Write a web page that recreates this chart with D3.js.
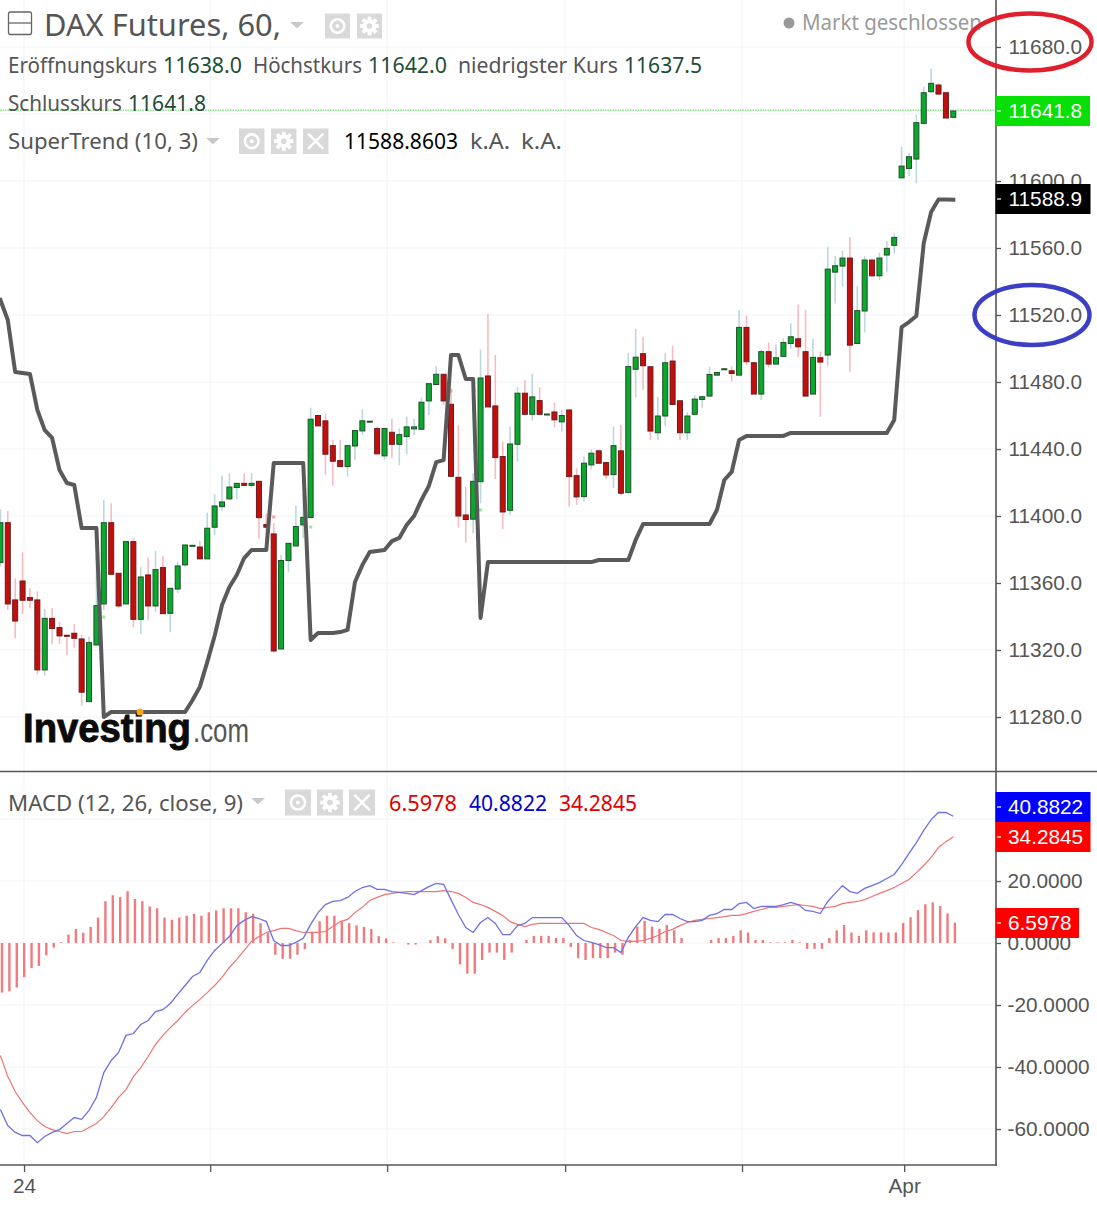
<!DOCTYPE html>
<html><head><meta charset="utf-8">
<script src="https://d3js.org/d3.v7.min.js"></script>
<style>html,body{margin:0;padding:0;background:#fff;overflow:hidden}svg{display:block}</style>
</head><body><svg id="c" width="1097" height="1206"></svg>
<script>
const opens=[11372.2,11396,11349.9,11361.2,11351.3,11349.9,11308.1,11338.9,11333.4,11328.8,
11330,11326.6,11289.2,11323,11347.5,11396,11365.8,11347.5,11384.7,11338.3,
11364.8,11346.3,11369.2,11341.9,11356.4,11370.8,11382.3,11381.5,11374.4,11393.3,
11405.6,11410.2,11417,11419.5,11418.3,11420.7,11394.9,11389.3,11320.6,11373.4,
11382.1,11394.7,11399.1,11460,11456.8,11442,11433.1,11429.5,11441.8,11450.8,
11456.2,11452.2,11435.9,11450,11442.8,11447.4,11452,11451.8,11468.7,11478.5,
11484.6,11466.7,11423.1,11400.6,11398.1,11420.5,11483.6,11465.7,11435.5,11403.4,
11442.8,11473.3,11460.7,11468.9,11460.5,11462.1,11456.2,11463.3,11424.1,11411.6,
11430.5,11438.9,11431.9,11424.7,11438.9,11414,11487.6,11496.9,11489.1,11449.7,
11459.7,11492.5,11468.8,11449.7,11460.7,11469.6,11471.6,11484.1,11487.5,11486.7,
11484.1,11512.6,11491.5,11472.8,11498.1,11490.7,11495.3,11503,11505.8,11498.1,
11472.8,11494.5,11496.1,11545.6,11549.2,11554,11503,11522.4,11552.8,11543.4,
11555.8,11561.6,11601.9,11607.5,11613.1,11634.4,11653.3,11657.3,11652.7,11638];
const closes=[11396,11347.5,11337.3,11349.7,11349.7,11308.1,11338.9,11332.8,11328.4,11328.4,
11327,11294.8,11324.4,11346.5,11396,11365.2,11346.3,11384.7,11338.3,11363.6,
11346.3,11368,11341.7,11356.8,11370.2,11382.7,11382.5,11374.4,11392.7,11406,
11408.4,11417.3,11419.5,11418.3,11419.5,11399,11393.3,11319.4,11373.4,11383.7,
11393.7,11399.2,11457.8,11453.8,11436.9,11432.7,11429.5,11442,11451,11456.8,
11456.6,11437.1,11452.2,11442.8,11448.6,11453.2,11453.2,11467.9,11479,11484.6,
11468.7,11423.7,11400,11397.9,11420.7,11482.4,11465.1,11434.9,11402.4,11443,
11473.3,11460.7,11471.1,11460.7,11460.9,11457.4,11460,11423.5,11411.4,11431.5,
11437.5,11431.5,11424.5,11442,11413.6,11489.2,11494.8,11489.7,11450.7,11459.7,
11491.5,11466.6,11449.7,11459.7,11469.8,11471.2,11484.5,11485.7,11487.9,11485.1,
11512.6,11492.1,11472.8,11498.1,11490.7,11494.5,11503.6,11507,11501,11471.6,
11494.7,11491.9,11547.4,11549.4,11554,11502,11522.6,11552.8,11543.4,11554,
11559.8,11566.3,11608.9,11614.5,11634.8,11652.7,11658.3,11651.9,11637.6,11641.8];
const highs=[11404,11403,11362.8,11378.3,11356.8,11354.9,11344.5,11344.9,11336.9,11328.8,
11335.6,11329,11328,11375.8,11409.6,11407.6,11365.8,11384.7,11387.1,11369.8,
11375.2,11379.3,11376.1,11356.8,11372.8,11382.7,11382.5,11385.1,11402,11413,
11424.1,11425.5,11419.5,11425.5,11425.5,11420.7,11401.6,11395.7,11376.7,11383.7,
11406.2,11413.6,11464.7,11460,11461.3,11445.4,11445.4,11442,11451,11463.7,
11456.6,11453.4,11452.2,11458,11452.4,11459.4,11458,11470.7,11479,11489.6,
11484.6,11476.3,11454.4,11417.6,11425.5,11499.5,11520.6,11496.2,11444.4,11453.4,
11476.9,11481.2,11484.8,11476.9,11460.9,11467.7,11463.3,11463.3,11428.5,11435.5,
11439.8,11439.8,11431.9,11453.4,11454.4,11497.2,11511.7,11507,11489.1,11471.2,
11497.1,11501.7,11468.8,11462.3,11472.2,11471.2,11489.1,11485.7,11487.9,11489.5,
11523,11519.6,11492.1,11499.1,11503.6,11502.4,11506,11515,11526.3,11523,
11506,11498.1,11560.8,11555.4,11558.4,11566.7,11537.5,11555.2,11553.8,11557.2,
11564.1,11568.7,11620.5,11616.9,11639.4,11656.3,11667.2,11658.3,11652.7,11642];
const lows=[11369.8,11343.9,11327,11341.5,11344.9,11305.5,11304.7,11323.6,11323.6,11317,
11321.4,11286.8,11289.2,11323,11343.9,11365.2,11344.9,11347.5,11333.6,11329.4,
11337.9,11342.9,11341.7,11330.6,11353.9,11369.8,11382.3,11374.4,11374.4,11388.7,
11403.2,11410,11410,11418.3,11417,11386.5,11380.7,11318.6,11320.6,11366.4,
11382.1,11386.7,11399.1,11453.8,11424.5,11418,11429.5,11423.5,11433.5,11448.4,
11456.2,11437.1,11433.5,11434.5,11430.3,11436.9,11448.4,11451.8,11460.3,11478.5,
11466.3,11423.7,11393.1,11384.1,11389.7,11407.6,11465.1,11422.1,11392.1,11400.6,
11432.5,11460.7,11457,11460.7,11460.5,11452.8,11450.4,11405.6,11406.6,11408.6,
11427.9,11431.5,11422.1,11416.6,11412.6,11414,11470.7,11475.2,11445.3,11445.3,
11453.7,11466.6,11445.3,11445.3,11460.3,11464.8,11471.6,11484.1,11487.5,11480.6,
11484.1,11490.1,11472.8,11469.2,11488.7,11490.7,11495.3,11499.9,11495.1,11471.6,
11472.8,11459.3,11489.5,11526.9,11536.9,11486.1,11503,11509.6,11542.8,11540.9,
11545.8,11556.8,11601.9,11603,11598.6,11634.4,11652.3,11651.3,11637.6,11637.5];
const superTrend=[11529,11517,11486,11485.4,11484.8,11463.3,11451.3,11446.6,11427.5,11419.7,
11418.5,11392.8,11392.8,11392.8,11280,11283,11283,11283,11283,11283,
11283,11283,11283,11283,11283,11283,11290,11298,11312.8,11328.4,
11346.9,11357.6,11364.8,11374.9,11379.7,11379.7,11379.7,11431.6,11431.6,11431.6,
11431.6,11431.6,11326,11330.1,11330.1,11330.1,11330.7,11332,11360.6,11370.7,
11378.5,11379.1,11379.7,11385,11386.9,11394.6,11400,11409.6,11417.9,11432.2,
11433.4,11496.1,11496.1,11481.8,11481.8,11339.1,11372.5,11372.5,11372.5,11372.5,
11372.5,11372.5,11372.5,11372.5,11372.5,11372.5,11372.5,11372.5,11372.5,11372.5,
11372.5,11373.7,11373.7,11373.7,11373.7,11373.7,11385.7,11395.2,11395.2,11395.2,
11395.2,11395.2,11395.2,11395.2,11395.2,11395.2,11395.2,11403.6,11421.5,11426.3,
11445.4,11447.8,11447.8,11447.8,11447.8,11447.8,11447.8,11449.6,11449.6,11449.6,
11449.6,11449.6,11449.6,11449.6,11449.6,11449.6,11449.6,11449.6,11449.6,11449.6,
11449.6,11457.3,11512.8,11515.8,11519.4,11563,11581.5,11589,11589,11588.86];
const macdLine=[-53.7,-58.9,-61.1,-62.1,-62.1,-64.4,-62.4,-61.1,-60.2,-58.2,
-56.3,-56.9,-54,-49.8,-41.8,-37.9,-35.3,-29.8,-29.2,-26.3,
-25,-22.1,-21.5,-19.5,-16.6,-13.7,-10.8,-9.5,-5.6,-2.4,
-0.2,2.1,5.6,7.3,8.5,7.9,6.9,0.8,-0.8,-0.8,
0.2,1.5,6,9.8,12.4,13.4,13.7,14.7,16.6,17.9,
18.5,17.3,17.3,16.6,16.3,16,15.6,16.9,18.2,19.2,
18.9,14,9.2,5,3.4,6.6,8.2,6.3,2.7,2.7,
5.6,6.3,8.2,8.2,8.2,8.2,8.2,5.6,2.4,0.8,
0.2,-0.5,-1.5,-1.5,-3.1,1.8,5.3,8.2,7.3,6.9,
9.2,9.2,7.9,6.9,6.9,7.3,8.9,9.5,10.8,10.8,
12.7,13.1,11.1,11.8,11.8,11.8,12.4,13.1,12.4,10.5,
10.2,9.5,13.4,16,18.5,16.6,16,17.6,18.5,19.5,
20.8,22.1,25.3,28.9,32.4,36.3,39.8,42.1,42.1,40.88];
const signalLine=[-36.3,-43.1,-47.9,-51.5,-54.7,-57.3,-59.2,-60.2,-60.8,-61.5,
-60.8,-60.8,-59.5,-58.2,-56,-53.1,-49.8,-47.3,-43.1,-40.2,
-36.6,-32.7,-29.8,-27.3,-25,-22.4,-20.2,-18.2,-16,-13.7,
-11.1,-7.9,-5.3,-2.4,0.5,2.1,3.4,4,4.7,4.7,
4,3.4,3.4,3.4,3.7,5.3,6.9,7.6,9.8,11.5,
13.7,14.7,15.6,16,16.3,16.6,16.6,16.6,16.6,16.6,
16.9,16.6,16,14.7,13.1,12.4,11.5,10.2,8.9,6.9,
6,5.3,6,6.3,6.3,6.3,6.3,6.3,6.3,6.3,
5,4.4,3.4,2.4,0.8,0.5,0.5,0.8,1.5,2.4,
3.7,4.4,5.6,6.6,7.3,7.6,7.9,8.2,8.5,8.9,
8.9,9.5,10.2,10.8,11.5,11.5,11.8,12.1,12.4,12.1,
11.8,11.1,11.5,11.8,12.7,13.1,13.4,14,15,16,
16.9,17.9,19.2,20.5,22.7,25,27.6,30.8,32.7,34.28];
const histogram=[-16,-15.6,-14.4,-11,-8.1,-7.4,-4,-1.5,0.2,2.7,
4.5,3.3,5.2,8.2,13.5,15.4,14.8,16.7,14.2,13.5,
11.8,11.2,8.2,7.5,8.2,8.8,9.4,8.8,9.9,10.5,
11.2,11.2,11.2,9.9,9.4,6.4,3.3,-3.8,-5.1,-5.1,
-3.8,-2,3.3,7,8.8,8.8,7,6.4,5.7,5.2,
4.5,2.2,1.5,0.2,0,-0.5,-0.5,0,0.9,2.2,
1.5,-2,-6.9,-9.9,-9.9,-5.5,-3.1,-3.1,-5.5,-3.1,
0,1,2.3,2.3,2.3,1.6,1.6,-1.3,-4.9,-5.5,
-4.9,-4.9,-4.9,-3.1,-3.8,1,5.3,7.1,5.3,4.6,
5.8,4.1,1.6,0,0,0,1,1.6,1.6,2.3,
4.1,3.4,1,1,0.2,0.2,0.2,1,0.2,-1.9,
-1.9,-1.9,1.6,4.1,5.8,3.4,2.3,4.1,3.4,3.4,
3.4,3.4,6.5,8.3,10.6,12.5,13.1,11.9,9.5,6.6];
const flipIdx=[14,37,42,61,65];
const flipPrice=[11339.7,11399.4,11393.4,11474.6,11403.6];
const flipKind=["up","down","up","down","up"];
const priceTicks=[11280,11320,11360,11400,11440,11480,11520,11560,11600,11640,11680];
const priceTickLabels=[11280,11320,11360,11400,11440,11480,11520,11560,11600,11680];
const macdGrid=[-60,-40,-20,0,20,40];
const macdTicks=[-60,-40,-20,0,20];
const timeTicks=[3.2,28.4,52.35,76.45,100.4,122.35];
const timeLabels=["24","","","","","Apr"];
const lastClose=11641.8, lastTrend=11588.9;
const macdLast=40.8822, signalLast=34.2845, histLast=6.5978;

const svg=d3.select("#c");
const FONT="'Noto Sans',sans-serif", AX="'Liberation Sans',Arial,sans-serif";
const PW=996;
const x=d3.scaleLinear().domain([0,129]).range([0.4,953.3]);
const y=d3.scaleLinear().domain([11280,11680]).range([717,47]);
const ym=d3.scaleLinear().domain([-60,20]).range([1129,881]);

const defs=svg.append("defs");
defs.append("clipPath").attr("id","cm").append("rect").attr("x",0).attr("y",0).attr("width",PW).attr("height",771);
defs.append("clipPath").attr("id","cl").append("rect").attr("x",0).attr("y",772).attr("width",PW).attr("height",393);

// grid
const grid=svg.append("g").attr("stroke","#f1f3f5").attr("stroke-width",1);
priceTicks.forEach(v=>grid.append("line").attr("x1",0).attr("x2",PW).attr("y1",y(v)).attr("y2",y(v)));
macdGrid.forEach(v=>grid.append("line").attr("x1",0).attr("x2",PW).attr("y1",ym(v)).attr("y2",ym(v)));
timeTicks.forEach(v=>grid.append("line").attr("x1",x(v)).attr("x2",x(v)).attr("y1",0).attr("y2",1165));

// last-price dotted line
svg.append("line").attr("x1",0).attr("x2",PW).attr("y1",y(lastClose)-0.7).attr("y2",y(lastClose)-0.7)
  .attr("stroke","#86e386").attr("stroke-width",1.5).attr("stroke-dasharray","1.5 1");

// candles
const idx=d3.range(opens.length);
const main=svg.append("g").attr("clip-path","url(#cm)");
const isUp=i=>closes[i]>=opens[i];
main.append("g").selectAll("line").data(idx).join("line")
  .attr("x1",i=>x(i)).attr("x2",i=>x(i)).attr("y1",i=>y(highs[i])).attr("y2",i=>y(lows[i]))
  .attr("stroke",i=>isUp(i)?"#bcd7de":"#f6bcc2").attr("stroke-width",1.6);
main.append("g").selectAll("rect").data(idx).join("rect")
  .attr("x",i=>x(i)-2.5).attr("width",5)
  .attr("y",i=>y(Math.max(opens[i],closes[i])))
  .attr("height",i=>Math.max(1,Math.abs(y(opens[i])-y(closes[i]))))
  .attr("fill",i=>isUp(i)?"#0aa82c":"#c40d0d")
  .attr("stroke",i=>isUp(i)?"#1e5029":"#691c1c").attr("stroke-width",1);
main.append("g").selectAll("rect").data(flipIdx).join("rect")
  .attr("x",(d,k)=>x(d)-1.5).attr("y",(d,k)=>y(flipPrice[k])-1.5).attr("width",3).attr("height",3)
  .attr("fill",(d,k)=>flipKind[k]==="up"?"#8ef08e":"#f6a0a0");
main.append("path").datum(idx)
  .attr("d",d3.line().x(i=>x(i)).y(i=>y(superTrend[i])))
  .attr("fill","none").attr("stroke","#5a5a5a").attr("stroke-width",4).attr("stroke-linejoin","round").attr("stroke-linecap","square");

// MACD pane
const low=svg.append("g").attr("clip-path","url(#cl)");
low.append("g").selectAll("line").data(idx).join("line")
  .attr("x1",i=>x(i)+1.6).attr("x2",i=>x(i)+1.6).attr("y1",ym(0)).attr("y2",i=>ym(histogram[i]))
  .attr("stroke","#f17a7d").attr("stroke-width",2.4);
low.append("path").datum(idx).attr("d",d3.line().x(i=>x(i)).y(i=>ym(signalLine[i])))
  .attr("fill","none").attr("stroke","#ef7474").attr("stroke-width",1.2);
low.append("path").datum(idx).attr("d",d3.line().x(i=>x(i)).y(i=>ym(macdLine[i])))
  .attr("fill","none").attr("stroke","#7070e2").attr("stroke-width",1.3);

// frames
svg.append("line").attr("x1",0).attr("x2",1097).attr("y1",771.5).attr("y2",771.5).attr("stroke","#555").attr("stroke-width",1.6);
svg.append("line").attr("x1",0).attr("x2",PW+1).attr("y1",1165).attr("y2",1165).attr("stroke","#555").attr("stroke-width",1.6);
svg.append("line").attr("x1",PW).attr("x2",PW).attr("y1",0).attr("y2",1166).attr("stroke","#555").attr("stroke-width",1.6);

// axes
const AXS=20.8;
function styleAxis(g){
  g.select(".domain").remove();
  g.selectAll(".tick line").attr("stroke","#555").attr("stroke-width",1.3);
  g.selectAll(".tick text").attr("fill","#555").attr("font-family",AX).attr("font-size",AXS);
}
svg.append("g").attr("transform",`translate(${PW},0)`)
  .call(d3.axisRight(y).tickValues(priceTickLabels).tickFormat(d3.format(".1f")).tickSize(5).tickPadding(7.5)).call(styleAxis);
svg.append("g").attr("transform",`translate(${PW},0)`)
  .call(d3.axisRight(ym).tickValues(macdTicks).tickFormat(d=>d3.format(".4f")(d).replace("\u2212","-")).tickSize(5).tickPadding(6.5)).call(styleAxis);
svg.append("g").attr("transform","translate(0,1165)")
  .call(d3.axisBottom(x).tickValues(timeTicks).tickFormat((d,i)=>timeLabels[i]).tickSize(7).tickPadding(6)).call(styleAxis);

// price tags
function tag(yTop,h,w,fill,label,tx,tc){
  svg.append("rect").attr("x",PW-.5).attr("y",yTop).attr("width",w).attr("height",h).attr("fill",fill);
  svg.append("line").attr("x1",PW+1).attr("x2",PW+5).attr("y1",yTop+h/2).attr("y2",yTop+h/2).attr("stroke","#fff").attr("stroke-width",1.2);
  svg.append("text").attr("x",tx).attr("y",yTop+h/2+7.3).attr("fill",tc||"#fff")
    .attr("font-family",AX).attr("font-size",AXS).text(label);
}
tag(96,30,94.5,"#06e006",lastClose.toFixed(1),1008.5);
tag(184,30,95,"#000",lastTrend.toFixed(1),1008.5);
tag(792,30,95,"#0000ff",macdLast.toFixed(4),1008);
tag(822,30,95,"#ff0000",signalLast.toFixed(4),1008);
tag(908,30,83.5,"#ff0000",histLast.toFixed(4),1008);

// helpers for header
function txt(px,py,s,fill,size,len,font,extra){
  const t=svg.append("text").attr("x",px).attr("y",py).attr("fill",fill).attr("font-family",font||FONT).attr("font-size",size).text(s);
  if(len) t.attr("textLength",len).attr("lengthAdjust","spacingAndGlyphs");
  if(extra) t.attr("font-weight",extra);
  return t;
}
function tri(px,py,w){svg.append("path").attr("d",`M${px},${py}h${w}l${-w/2},${w*0.45}z`).attr("fill","#c8c8c8");}
function box(px,py,s){svg.append("rect").attr("x",px).attr("y",py).attr("width",s).attr("height",s).attr("fill","#d9d9d9");}
function eye(px,py,s){box(px,py,s);const c=svg.append("g").attr("transform",`translate(${px+s/2},${py+s/2})`);
  c.append("circle").attr("r",s*0.27).attr("fill","none").attr("stroke","#fff").attr("stroke-width",2.6);
  c.append("circle").attr("r",s*0.08).attr("fill","#fff");}
function gear(px,py,s){box(px,py,s);const c=svg.append("g").attr("transform",`translate(${px+s/2},${py+s/2})`);
  d3.range(8).forEach(k=>c.append("rect").attr("x",-1.8).attr("y",-s*0.37).attr("width",3.6).attr("height",s*0.74).attr("fill","#fff").attr("transform",`rotate(${k*45})`));
  c.append("circle").attr("r",s*0.27).attr("fill","#fff");
  c.append("circle").attr("r",s*0.11).attr("fill","#d9d9d9");}
function cross(px,py,s){box(px,py,s);const m=s*0.2;
  svg.append("path").attr("d",`M${px+m},${py+m}L${px+s-m},${py+s-m}M${px+s-m},${py+m}L${px+m},${py+s-m}`).attr("stroke","#fff").attr("stroke-width",2.6);}

// title row
svg.append("rect").attr("x",8.5).attr("y",12).attr("width",23).attr("height",22.5).attr("rx",2).attr("fill","none").attr("stroke","#666").attr("stroke-width",1.3);
svg.append("line").attr("x1",8.5).attr("x2",31.5).attr("y1",23).attr("y2",23).attr("stroke","#666").attr("stroke-width",1.3);
const INK="#555", VAL="#1f4d38";
txt(44,36,"DAX Futures, 60,","#555",31,237);
tri(290,22,14); eye(325,13.5,25); gear(357,13.5,25);
svg.append("circle").attr("cx",789).attr("cy",23).attr("r",5.5).attr("fill","#999");
txt(802,30,"Markt geschlossen","#9a9a9a",22,180);
// values row
const sz=22;
txt(8,73,"Eröffnungskurs",INK,sz,149); txt(163,73,"11638.0",VAL,sz,79);
txt(253,73,"Höchstkurs",INK,sz,109); txt(368,73,"11642.0",VAL,sz,79);
txt(458,73,"niedrigster Kurs",INK,sz,160); txt(624,73,"11637.5",VAL,sz,78);
txt(8,110.5,"Schlusskurs",INK,sz,114); txt(128,110.5,"11641.8",VAL,sz,78);
txt(8,149,"SuperTrend (10, 3)",INK,sz,190); tri(206,138,14);
eye(239,128.5,25.5); gear(271,128.5,25.5); cross(303,128.5,25.5);
txt(344,149,"11588.8603","#000",sz,114); txt(470,149,"k.A.",INK,sz,40); txt(521,149,"k.A.",INK,sz,41);
txt(8,810.5,"MACD (12, 26, close, 9)",INK,sz,235); tri(251,798,14);
eye(285,789.5,26); gear(317,789.5,26); cross(349,789.5,26);
txt(389,810.5,"6.5978","#e00000",sz,68); txt(469,810.5,"40.8822","#0000d0",sz,78); txt(559,810.5,"34.2845","#e00000",sz,78);

// logo
txt(23,742,"Investing","#0b0b0b",40,168,AX,"bold").attr("stroke","#0b0b0b").attr("stroke-width",0.9);
txt(193,742,".com","#555",33,56,AX);
svg.append("circle").attr("cx",140).attr("cy",712).attr("r",3.5).attr("fill","#f5a623");

// annotation ellipses
svg.append("ellipse").attr("cx",1030).attr("cy",42).attr("rx",61.5).attr("ry",28.5).attr("fill","none").attr("stroke","#e01f2c").attr("stroke-width",4.5);
svg.append("ellipse").attr("cx",1032).attr("cy",315).attr("rx",57.5).attr("ry",30).attr("fill","none").attr("stroke","#3c3fc6").attr("stroke-width",4.5);
</script></body></html>
